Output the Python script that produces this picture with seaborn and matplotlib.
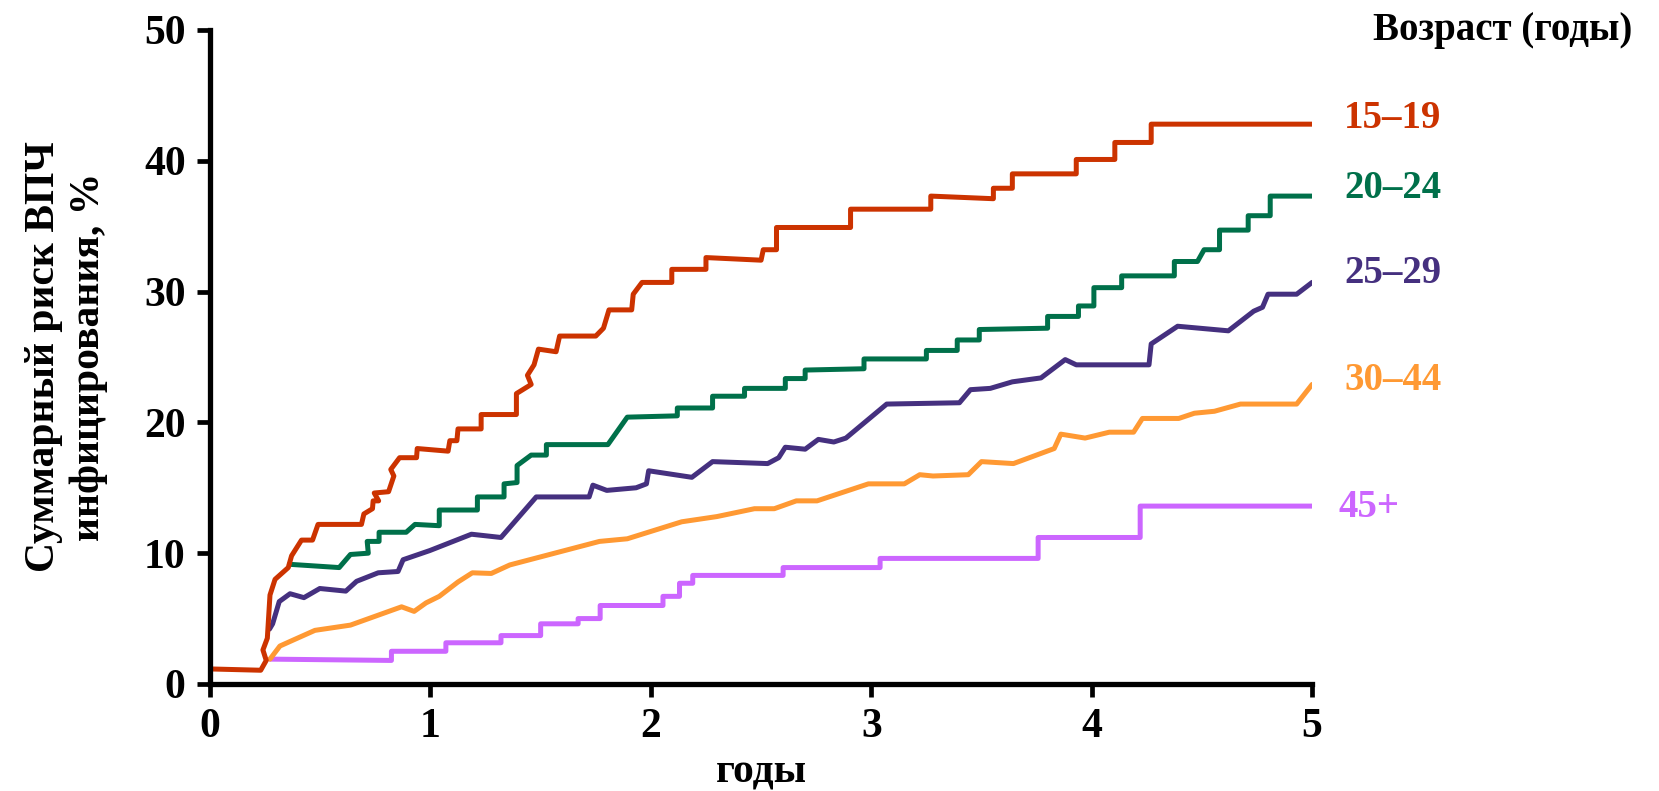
import pandas as pd
import matplotlib.pyplot as plt
import seaborn as sns

# 15–19
red_x = [0, 0.23, 0.255, 0.24, 0.26, 0.272, 0.295, 0.355, 0.37, 0.415, 0.465, 0.49, 0.687, 0.698,
         0.737, 0.74, 0.765, 0.745, 0.81, 0.834, 0.82, 0.86, 0.937, 0.94, 1.08, 1.088, 1.12, 1.125,
         1.23, 1.23, 1.39, 1.39, 1.457, 1.44, 1.47, 1.49, 1.57, 1.586, 1.75, 1.785, 1.81, 1.913,
         1.92, 1.96, 2.095, 2.095, 2.25, 2.25, 2.50, 2.51, 2.57, 2.57, 2.906, 2.906, 3.27, 3.27,
         3.554, 3.554, 3.64, 3.64, 3.93, 3.93, 4.105, 4.105, 4.27, 4.27, 5.0]
red_y = [1.15, 1.05, 1.8, 2.6, 3.5, 6.8, 8.0, 8.9, 9.8, 11.0, 11.0, 12.2, 12.2, 13.0,
         13.4, 14.0, 14.0, 14.6, 14.7, 15.9, 16.4, 17.3, 17.3, 18.0, 17.8, 18.6, 18.6, 19.5,
         19.5, 20.6, 20.6, 22.2, 22.9, 23.6, 24.4, 25.6, 25.4, 26.6, 26.6, 27.2, 28.6, 28.6,
         29.8, 30.7, 30.7, 31.7, 31.7, 32.6, 32.4, 33.2, 33.2, 34.9, 34.9, 36.3, 36.3, 37.3,
         37.1, 37.9, 37.9, 39.0, 39.0, 40.1, 40.1, 41.4, 41.4, 42.8, 42.8]

# 20–24
green_x = [0.36, 0.586, 0.637, 0.718, 0.713, 0.767, 0.767, 0.89, 0.93, 1.04, 1.04, 1.213, 1.213,
           1.334, 1.334, 1.393, 1.393, 1.457, 1.526, 1.526, 1.805, 1.893, 2.12, 2.12, 2.28, 2.28,
           2.425, 2.425, 2.61, 2.61, 2.70, 2.70, 2.967, 2.967, 3.25, 3.25, 3.39, 3.39, 3.49, 3.49,
           3.80, 3.80, 3.94, 3.94, 4.01, 4.01, 4.136, 4.136, 4.375, 4.375, 4.48, 4.51, 4.58, 4.58,
           4.71, 4.71, 4.81, 4.81, 5.0]
green_y = [9.15, 8.9, 9.9, 10.0, 10.9, 10.9, 11.6, 11.6, 12.2, 12.1, 13.3, 13.3, 14.3,
           14.3, 15.3, 15.4, 16.7, 17.5, 17.5, 18.3, 18.3, 20.4, 20.5, 21.1, 21.1, 22.0,
           22.0, 22.6, 22.6, 23.35, 23.35, 24.0, 24.1, 24.85, 24.85, 25.5, 25.5, 26.3, 26.3, 27.1,
           27.2, 28.1, 28.1, 28.9, 28.9, 30.3, 30.3, 31.2, 31.2, 32.3, 32.3, 33.2, 33.2, 34.7,
           34.7, 35.8, 35.8, 37.3, 37.3]

# 25–29
purple_x = [0.27, 0.284, 0.314, 0.363, 0.426, 0.498, 0.616, 0.665, 0.763, 0.853, 0.876, 0.997,
            1.186, 1.32, 1.48, 1.72, 1.737, 1.80, 1.933, 1.98, 1.99, 2.186, 2.28, 2.53, 2.58,
            2.61, 2.70, 2.76, 2.83, 2.885, 3.07, 3.40, 3.45, 3.54, 3.64, 3.77, 3.88, 3.93, 4.26,
            4.27, 4.39, 4.62, 4.735, 4.775, 4.80, 4.93, 5.0]
purple_y = [4.2, 4.6, 6.3, 6.9, 6.6, 7.3, 7.1, 7.85, 8.5, 8.6, 9.5, 10.2,
            11.45, 11.2, 14.3, 14.3, 15.2, 14.8, 15.0, 15.3, 16.3, 15.8, 17.0, 16.85, 17.3,
            18.1, 17.95, 18.7, 18.5, 18.8, 21.4, 21.5, 22.5, 22.6, 23.1, 23.4, 24.8, 24.4, 24.4,
            26.0, 27.35, 27.0, 28.5, 28.8, 29.8, 29.8, 30.7]

# 30–44
orange_x = [0.272, 0.317, 0.363, 0.476, 0.637, 0.869, 0.926, 0.98, 1.04, 1.125, 1.19, 1.276,
            1.36, 1.473, 1.767, 1.893, 2.14, 2.30, 2.47, 2.56, 2.66, 2.754, 2.987, 3.15, 3.22,
            3.28, 3.44, 3.50, 3.645, 3.83, 3.86, 3.97, 4.08, 4.19, 4.23, 4.395, 4.466, 4.557,
            4.675, 4.93, 5.0]
orange_y = [1.9, 2.9, 3.25, 4.1, 4.5, 5.9, 5.55, 6.2, 6.7, 7.8, 8.5, 8.45,
            9.1, 9.6, 10.9, 11.1, 12.4, 12.8, 13.4, 13.4, 14.0, 14.0, 15.3, 15.3, 16.0,
            15.9, 16.0, 17.0, 16.85, 18.0, 19.1, 18.8, 19.25, 19.25, 20.3, 20.3, 20.7, 20.85,
            21.4, 21.4, 22.9]

# 45+
violet_x = [0.272, 0.823, 0.823, 1.07, 1.07, 1.32, 1.32, 1.50, 1.50, 1.67, 1.67, 1.77, 1.77,
            2.055, 2.055, 2.13, 2.13, 2.19, 2.19, 2.60, 2.60, 3.04, 3.04, 3.757, 3.757, 4.22,
            4.22, 5.0]
violet_y = [1.9, 1.8, 2.5, 2.5, 3.15, 3.15, 3.7, 3.7, 4.6, 4.6, 5.0, 5.0, 6.0,
            6.0, 6.7, 6.7, 7.7, 7.7, 8.3, 8.3, 8.9, 8.9, 9.6, 9.6, 11.2, 11.2,
            13.6, 13.6]

groups = ["15–19", "20–24", "25–29", "30–44", "45+"]
label_y = [43.2, 37.9, 31.4, 23.2, 13.5]
label_x = [5.145, 5.145, 5.145, 5.145, 5.12]

COLORS = {
    "15–19": "#CC3300",
    "20–24": "#00704A",
    "25–29": "#45307F",
    "30–44": "#FF9933",
    "45+": "#CC66FF",
}


def main():
    sns.set_style("ticks")
    plt.rcParams['font.family'] = ['Liberation Serif', 'DejaVu Serif']
    plt.rcParams['font.weight'] = 'bold'
    # всё чёрное, как в оригинале
    for key in ['text.color', 'axes.labelcolor', 'xtick.color', 'ytick.color', 'axes.edgecolor']:
        plt.rcParams[key] = 'black'

    series = [(groups[0], red_x, red_y), (groups[1], green_x, green_y),
              (groups[2], purple_x, purple_y), (groups[3], orange_x, orange_y),
              (groups[4], violet_x, violet_y)]
    frames = []
    for name, xs, ys in series:
        frames.append(pd.DataFrame({'t': xs, 'risk': ys, 'group': name}))
    df = pd.concat(frames, ignore_index=True)

    fig = plt.figure(figsize=(16.59, 7.91), dpi=100)
    ax = fig.add_axes([0.1266, 0.1353, 0.6643, 0.8268])

    # красная линия сверху
    draw_order = ["45+", "30–44", "25–29", "20–24", "15–19"]
    sns.lineplot(data=df, x='t', y='risk', hue='group', hue_order=draw_order,
                 palette=COLORS, sort=False, estimator=None, linewidth=3.6,
                 legend=False, ax=ax)

    ax.set_xlim(0, 5)
    ax.set_ylim(0, 50)
    ax.set_xticks(range(0, 6))
    ax.set_yticks(range(0, 51, 10))
    for s in ['left', 'bottom']:
        ax.spines[s].set_linewidth(3.8)
        ax.spines[s].set_color('black')
    sns.despine(ax=ax)
    ax.tick_params(axis='both', width=3.4, length=9.5, labelsize=30, colors='black')
    ax.tick_params(axis='y', pad=8)
    ax.tick_params(axis='x', pad=8)

    ax.set_xlabel("годы", fontsize=30, fontweight='bold', labelpad=5)
    ax.set_ylabel("Суммарный риск ВПЧ\nинфицирования, %", fontsize=30,
                  fontweight='bold', labelpad=26, multialignment='center')

    # подписи групп справа
    for name, lx, ly in zip(groups, label_x, label_y):
        ax.text(lx, ly, name, color=COLORS[name], fontsize=28, fontweight='bold',
                va='center', ha='left', clip_on=False)

    fig.text(0.906, 0.962, "Возраст (годы)", fontsize=28, fontweight='bold',
             ha='center', va='center')

    fig.savefig("out.png", dpi=100)


if __name__ == "__main__":
    main()
